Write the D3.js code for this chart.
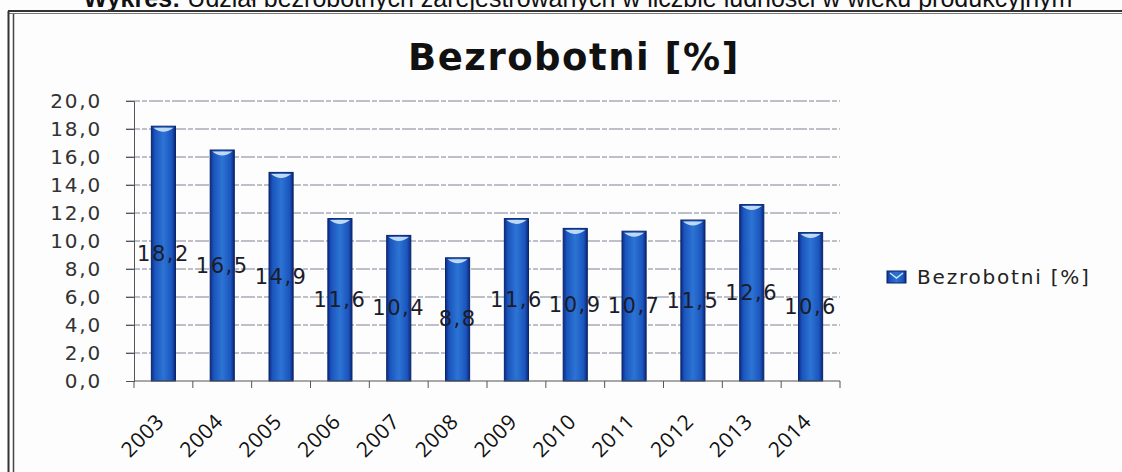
<!DOCTYPE html>
<html>
<head>
<meta charset="utf-8">
<script src="https://cdn.jsdelivr.net/npm/d3@7"></script>
<style>
  body { margin: 0; background: #fdfdfd; }
  svg { display: block; }
</style>
</head>
<body>
<script>
// dane wykresu
var years = ["2003","2004","2005","2006","2007","2008","2009","2010","2011","2012","2013","2014"];
var values = [18.2, 16.5, 14.9, 11.6, 10.4, 8.8, 11.6, 10.9, 10.7, 11.5, 12.6, 10.6];
var yTicks = [0, 2, 4, 6, 8, 10, 12, 14, 16, 18, 20];
var seriesName = "Bezrobotni [%]";

var W = 1122, H = 472;
var plotL = 134, plotR = 840, plotT = 101, plotB = 381;
var fmt = function(v) { return d3.format(".1f")(v).replace(".", ","); };

var svg = d3.select("body").append("svg")
  .attr("width", W)
  .attr("height", H);

var defs = svg.append("defs");
var grad = defs.append("linearGradient").attr("id", "barGrad")
  .attr("x1", "0").attr("x2", "1").attr("y1", "0").attr("y2", "0");
grad.append("stop").attr("offset", "0%").attr("stop-color", "#0c2c88");
grad.append("stop").attr("offset", "15%").attr("stop-color", "#1b55bd");
grad.append("stop").attr("offset", "50%").attr("stop-color", "#2c74d4");
grad.append("stop").attr("offset", "85%").attr("stop-color", "#1b55bd");
grad.append("stop").attr("offset", "100%").attr("stop-color", "#0a2878");

// caption above the frame (cut off by the page edge)
var cap = svg.append("text")
  .attr("x", 578).attr("y", 7)
  .attr("text-anchor", "middle")
  .style("font-family", "Liberation Sans, Arial, sans-serif")
  .style("font-size", "25px")
  .attr("fill", "#111");
cap.append("tspan").style("font-weight", "bold").text("Wykres: ");
cap.append("tspan").text("Udział bezrobotnych zarejestrowanych w liczbie ludności w wieku produkcyjnym");

// frame
svg.append("line").attr("x1", 8).attr("x2", W).attr("y1", 11).attr("y2", 11)
  .attr("stroke", "#333").attr("stroke-width", 2);
svg.append("line").attr("x1", 8).attr("x2", W).attr("y1", 13.5).attr("y2", 13.5)
  .attr("stroke", "#777").attr("stroke-width", 1);
svg.append("line").attr("x1", 8.5).attr("x2", 8.5).attr("y1", 11).attr("y2", H)
  .attr("stroke", "#333").attr("stroke-width", 2);
svg.append("line").attr("x1", 13.5).attr("x2", 13.5).attr("y1", 14).attr("y2", H)
  .attr("stroke", "#444").attr("stroke-width", 1.5);

// title
svg.append("text")
  .attr("x", 574).attr("y", 70)
  .attr("text-anchor", "middle")
  .style("font-family", "DejaVu Sans, sans-serif")
  .style("font-weight", "bold")
  .style("font-size", "37px")
  .style("letter-spacing", "1.5px")
  .attr("fill", "#111")
  .text(seriesName);

var x = d3.scaleBand().domain(years).range([plotL, plotR]).padding(0);
var y = d3.scaleLinear().domain([0, 20]).range([plotB, plotT]);
var barW = x.step() * 0.41;

// grid
svg.append("g").selectAll("line")
  .data(yTicks.filter(function(d) { return d > 0; }))
  .enter().append("line")
  .attr("x1", plotL - 8).attr("x2", plotR)
  .attr("y1", function(d) { return y(d); })
  .attr("y2", function(d) { return y(d); })
  .attr("stroke", "#7f8394")
  .attr("stroke-width", 1.2)
  .attr("stroke-dasharray", "14,2,5,2");

// y axis
var yAxis = svg.append("g")
  .attr("transform", "translate(" + plotL + ",0)")
  .call(d3.axisLeft(y).tickValues(yTicks).tickFormat(fmt).tickSize(8).tickPadding(24));
yAxis.select(".domain").attr("stroke", "#555");
yAxis.selectAll(".tick line").attr("stroke", "#555");
yAxis.selectAll("text")
  .style("font-family", "DejaVu Sans, sans-serif")
  .style("font-size", "20px")
  .style("letter-spacing", "1.8px")
  .attr("fill", "#333");

// bars
var bars = svg.append("g").selectAll("g.bar")
  .data(values)
  .enter().append("g").attr("class", "bar");

bars.append("rect")
  .attr("x", function(d, i) { return x(years[i]) + (x.step() - barW) / 2; })
  .attr("y", function(d) { return y(d); })
  .attr("width", barW)
  .attr("height", function(d) { return plotB - y(d); })
  .attr("fill", "url(#barGrad)")
  .attr("stroke", "#0b2466")
  .attr("stroke-width", 1);

bars.append("path")
  .attr("d", function(d, i) {
    var cx = x(years[i]) + x.step() / 2, t = y(d) + 1.5;
    var hw = barW / 2 - 2;
    return "M" + (cx - hw) + "," + t + " Q" + cx + "," + (t + 8) + " " + (cx + hw) + "," + t + " Z";
  })
  .attr("fill", "#cfe4f8")
  .attr("opacity", 0.9);

// x axis
var xAxis = svg.append("g")
  .attr("transform", "translate(0," + plotB + ")");
xAxis.append("line").attr("x1", plotL).attr("x2", plotR)
  .attr("stroke", "#555").attr("stroke-width", 1.2);
xAxis.selectAll("line.tk")
  .data(years.concat(["end"]))
  .enter().append("line").attr("class", "tk")
  .attr("x1", function(d, i) { return plotL + i * x.step(); })
  .attr("x2", function(d, i) { return plotL + i * x.step(); })
  .attr("y1", 0).attr("y2", 7)
  .attr("stroke", "#555");
xAxis.selectAll("text")
  .data(years)
  .enter().append("text")
  .attr("transform", function(d) {
    return "translate(" + (x(d) + x.step() / 2 + 2) + ",42) rotate(-45)";
  })
  .attr("text-anchor", "end")
  .style("font-family", "Open Sans, sans-serif")
  .style("font-size", "21px")
  .style("letter-spacing", "0.5px")
  .attr("fill", "#111")
  .text(function(d) { return d; });

// data labels
bars.append("text")
  .attr("x", function(d, i) { return x(years[i]) + x.step() / 2; })
  .attr("y", function(d) { return y(d / 2) + 7; })
  .attr("text-anchor", "middle")
  .style("font-family", "DejaVu Sans, sans-serif")
  .style("font-size", "21px")
  .style("letter-spacing", "1.5px")
  .attr("fill", "#1c1c2a")
  .text(function(d) { return fmt(d); });

// legend
var lg = svg.append("g").attr("transform", "translate(887,271)");
lg.append("rect").attr("width", 19).attr("height", 12)
  .attr("fill", "url(#barGrad)").attr("stroke", "#0b2466");
lg.append("path").attr("d", "M3,2 L9.5,7 L16,2").attr("stroke", "#cfe4f8")
  .attr("stroke-width", 1.5).attr("fill", "none");
lg.append("text").attr("x", 30).attr("y", 13)
  .style("font-family", "DejaVu Sans, sans-serif")
  .style("font-size", "20px")
  .style("letter-spacing", "1.8px")
  .attr("fill", "#222")
  .text(seriesName);
</script>
</body>
</html>
